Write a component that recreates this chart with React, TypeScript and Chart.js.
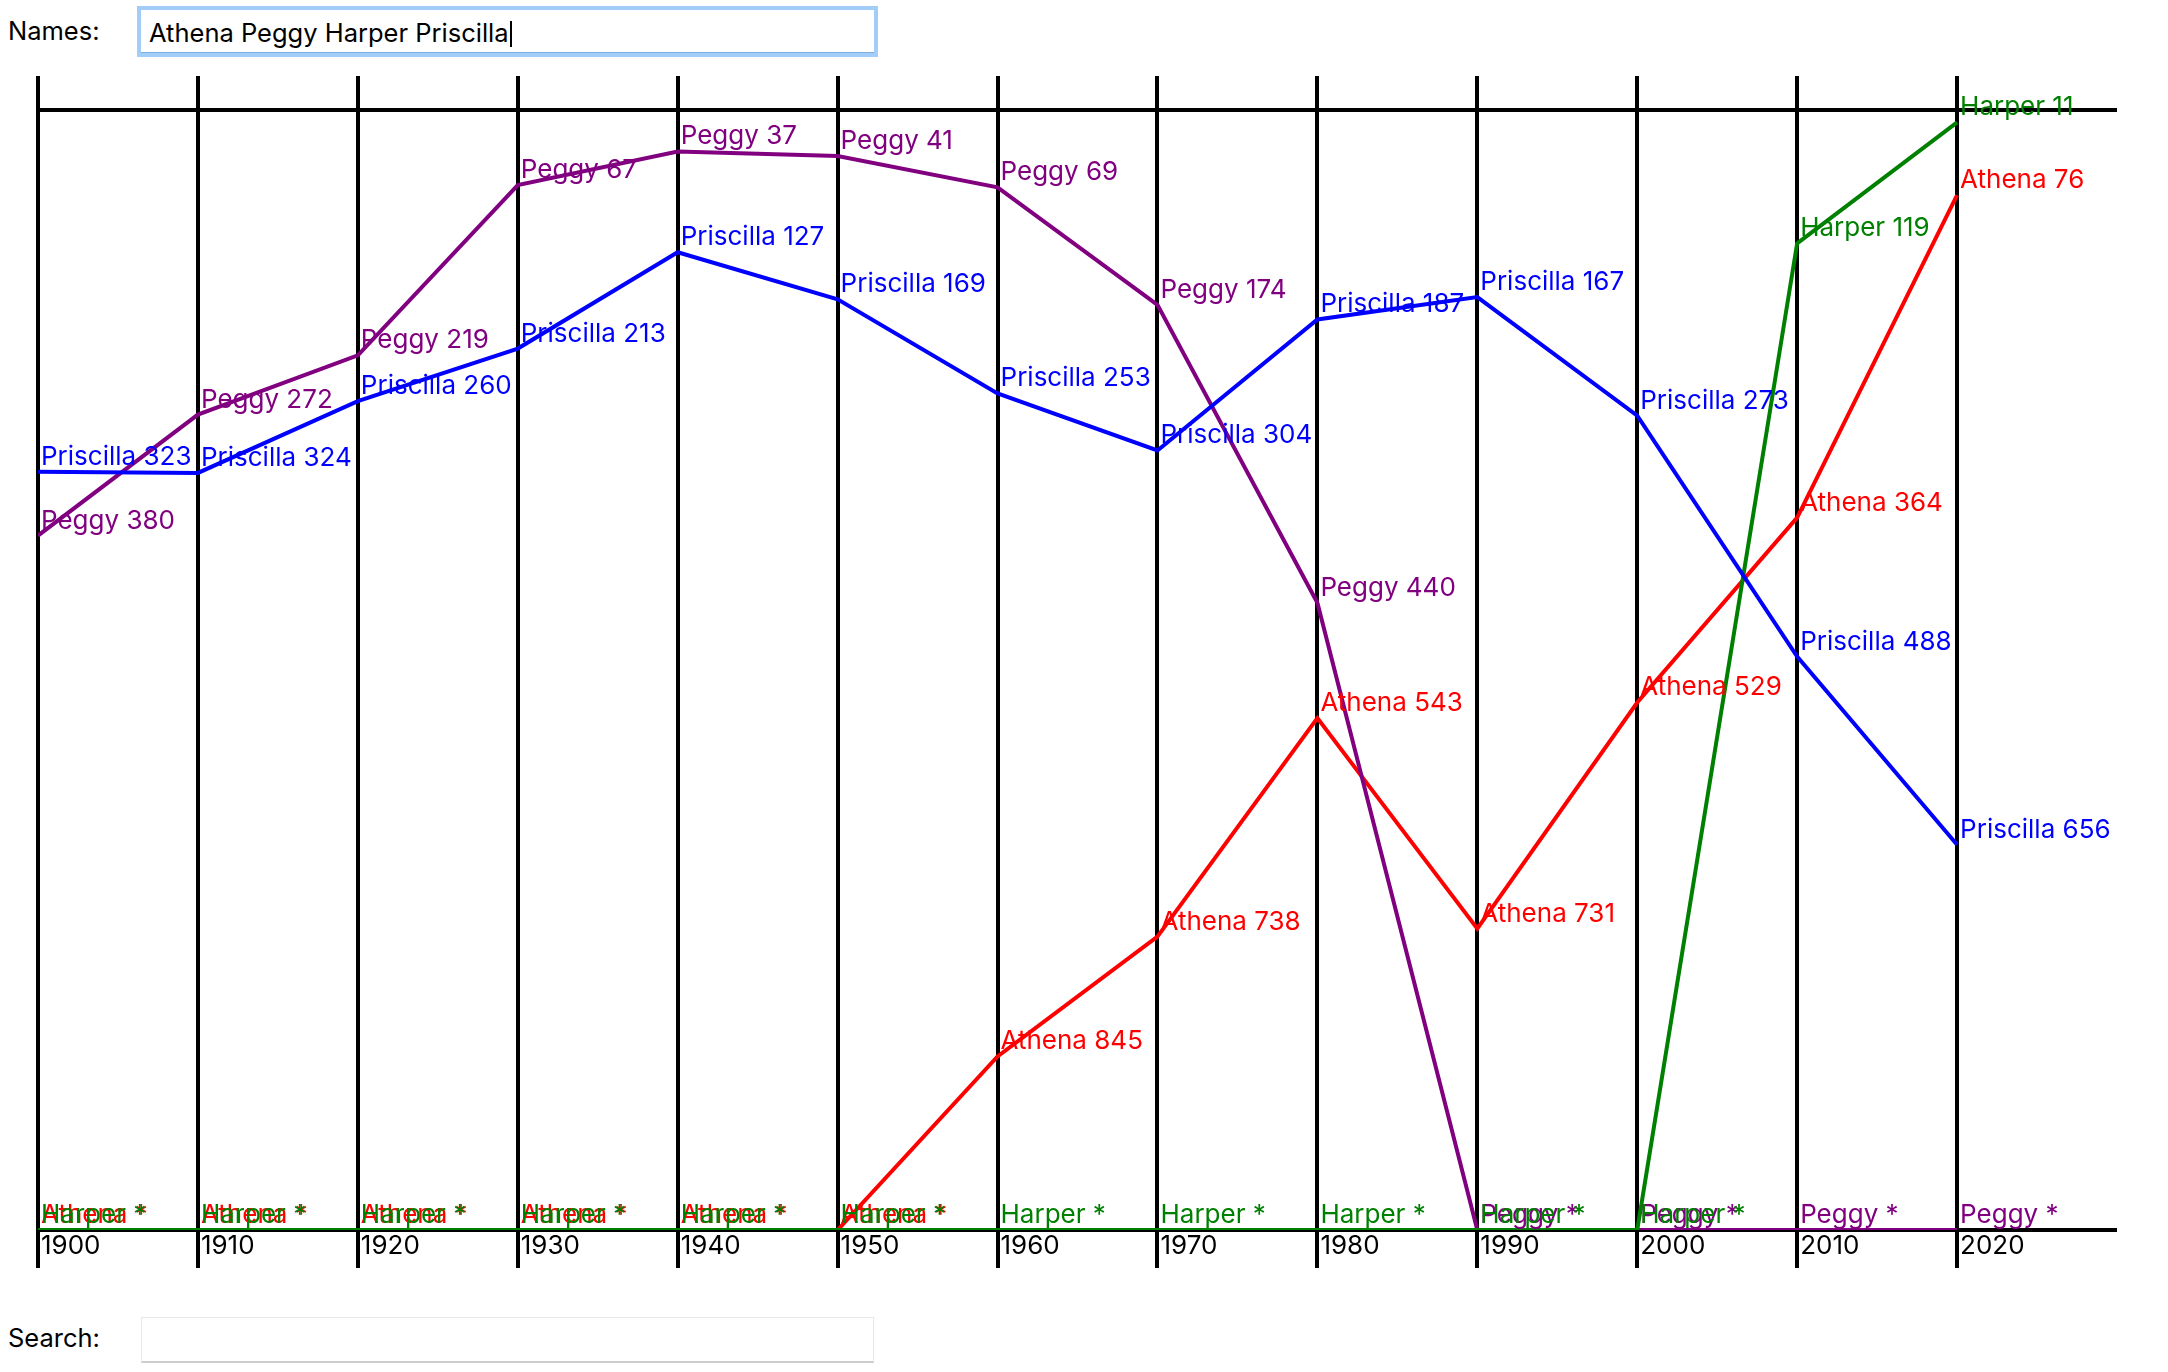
import React, { useEffect, useRef } from "react";
import { Chart, registerables } from "chart.js";

Chart.register(...registerables);

// ---- data (ranks by decade; null = not in the top 1000, shown as "*") ----
const years = [1900, 1910, 1920, 1930, 1940, 1950, 1960, 1970, 1980, 1990, 2000, 2010, 2020];
const names = ["Athena", "Peggy", "Harper", "Priscilla"];
const athenaRanks = [null, null, null, null, null, null, 845, 738, 543, 731, 529, 364, 76];
const peggyRanks = [380, 272, 219, 67, 37, 41, 69, 174, 440, null, null, null, null];
const harperRanks = [null, null, null, null, null, null, null, null, null, null, null, 119, 11];
const priscillaRanks = [323, 324, 260, 213, 127, 169, 253, 304, 187, 167, 273, 488, 656];
const nameColors = ["#ff0000", "#800080", "#008000", "#0000ff"];
const rankMin = 0;
const rankMax = 1000;
const yearMin = 1900;
const yearMax = 2030;

const FONT = "Inter, 'Noto Sans', 'DejaVu Sans', sans-serif";

export default function App() {
  const ref = useRef<HTMLCanvasElement | null>(null);

  useEffect(() => {
    const series = [athenaRanks, peggyRanks, harperRanks, priscillaRanks];

    const labelPlugin = {
      id: "rankLabels",
      afterDatasetsDraw(chart: any) {
        const ctx = chart.ctx;
        ctx.save();
        ctx.font = `26px ${FONT}`;
        ctx.textAlign = "left";
        ctx.textBaseline = "alphabetic";
        chart.data.datasets.forEach((ds: any, di: number) => {
          const meta = chart.getDatasetMeta(di);
          ctx.fillStyle = ds.borderColor;
          meta.data.forEach((el: any, i: number) => {
            const v = series[di][i];
            ctx.fillText(`${names[di]} ${v == null ? "*" : v}`, el.x + 3, el.y - 7);
          });
        });
        ctx.restore();
      },
    };

    const filterTicks = (scale: any) => {
      scale.ticks = scale.ticks.filter((t: any) => years.includes(t.value));
    };

    const chart = new Chart(ref.current as HTMLCanvasElement, {
      type: "line",
      data: {
        datasets: names.map((n, di) => ({
          label: n,
          data: years.map((yr, i) => ({ x: yr, y: series[di][i] ?? rankMax })),
          borderColor: nameColors[di],
          backgroundColor: nameColors[di],
          borderWidth: 4,
          pointRadius: 0,
          pointHoverRadius: 0,
          fill: false,
          tension: 0,
          order: 3 - di,
        })),
      },
      options: {
        animation: false,
        responsive: false,
        events: [],
        layout: { padding: { left: 38, right: 51, top: 16, bottom: 0 } },
        plugins: { legend: { display: false }, tooltip: { enabled: false } },
        scales: {
          x: {
            type: "linear",
            position: "bottom",
            min: yearMin,
            max: yearMax,
            afterBuildTicks: filterTicks,
            ticks: {
              stepSize: 10,
              autoSkip: false,
              maxRotation: 0,
              minRotation: 0,
              align: "start",
              labelOffset: 3,
              padding: -37,
              color: "#000",
              font: { size: 26, family: FONT },
              callback: (v: any) => String(v),
            },
            grid: { color: "#000", lineWidth: 4, tickLength: 38, tickWidth: 4, drawTicks: true },
            border: { display: false },
            afterFit: (s: any) => {
              s.height = 40;
            },
          },
          xTop: {
            type: "linear",
            position: "top",
            min: yearMin,
            max: yearMax,
            afterBuildTicks: filterTicks,
            ticks: { stepSize: 10, display: false },
            grid: { color: "#000", lineWidth: 4, tickLength: 34, tickWidth: 4, drawOnChartArea: false },
            border: { display: false },
            afterFit: (s: any) => {
              s.height = 34;
            },
          },
          y: {
            type: "linear",
            min: rankMin,
            max: rankMax,
            reverse: true,
            afterBuildTicks: (s: any) => {
              s.ticks = [{ value: rankMin }, { value: rankMax }];
            },
            ticks: { display: false },
            grid: { color: "#000", lineWidth: 4, drawTicks: false },
            border: { display: false },
            afterFit: (s: any) => {
              s.width = 0;
            },
          },
        },
      } as any,
      plugins: [labelPlugin],
    });
    return () => chart.destroy();
  }, []);

  const textStyle: React.CSSProperties = {
    position: "absolute",
    fontFamily: FONT,
    fontSize: 25.5,
    lineHeight: "30px",
    color: "#000",
    whiteSpace: "nowrap",
  };

  return (
    <div>
      <div style={{ ...textStyle, left: 8, top: 16 }}>Names:</div>
      <div
        style={{
          position: "absolute",
          left: 137,
          top: 6,
          width: 741,
          height: 51,
          boxSizing: "border-box",
          border: "4px solid #a3cdf9",
          boxShadow: "inset 0 -1px 0 #7eaee2",
          background: "#fff",
        }}
      />
      <div style={{ ...textStyle, left: 149, top: 18 }}>
        Athena Peggy Harper Priscilla
        <span
          style={{
            display: "inline-block",
            width: 2,
            height: 26,
            background: "#000",
            verticalAlign: "-5px",
            marginLeft: 1,
          }}
        />
      </div>
      <canvas
        ref={ref}
        width={2168}
        height={1210}
        style={{ position: "absolute", left: 0, top: 60, width: 2168, height: 1210 }}
      />
      <div style={{ ...textStyle, left: 8, top: 1323 }}>Search:</div>
      <div
        style={{
          position: "absolute",
          left: 141,
          top: 1317,
          width: 733,
          height: 46,
          boxSizing: "border-box",
          border: "1px solid #e8e8e8",
          borderBottom: "2px solid #cdcdcd",
          background: "#fff",
        }}
      />
    </div>
  );
}
